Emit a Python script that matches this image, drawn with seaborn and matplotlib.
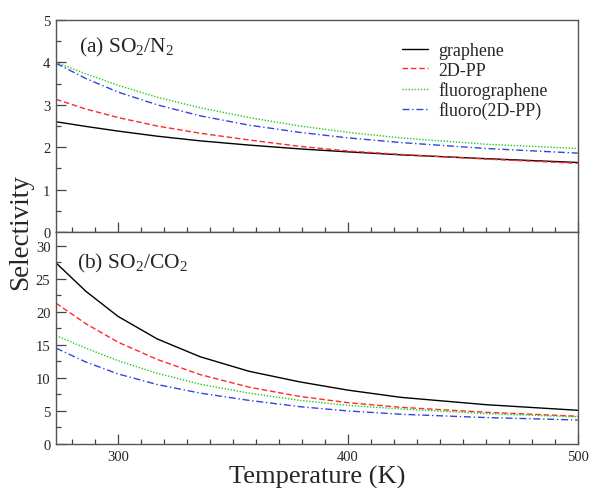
import numpy as np
import pandas as pd
import matplotlib
matplotlib.use("Agg")
import matplotlib.pyplot as plt
from matplotlib.ticker import MultipleLocator
import seaborn as sns

# Temperature grid (K)
temps = [273, 286, 300, 317, 335.7, 357, 379, 400, 423, 460, 500]

# (a) SO2/N2 selectivity
so2n2_graphene = [2.60, 2.49, 2.38, 2.26, 2.15, 2.05, 1.96, 1.89, 1.82, 1.73, 1.64]
so2n2_2dpp = [3.13, 2.90, 2.70, 2.50, 2.33, 2.17, 2.02, 1.91, 1.83, 1.72, 1.62]
so2n2_fluorographene = [4.00, 3.73, 3.46, 3.18, 2.93, 2.70, 2.50, 2.35, 2.22, 2.07, 1.97]
so2n2_fluoro2dpp = [3.98, 3.62, 3.30, 3.00, 2.74, 2.52, 2.35, 2.22, 2.11, 1.97, 1.86]

# (b) SO2/CO2 selectivity
so2co2_graphene = [27.4, 23.1, 19.3, 15.9, 13.2, 11.0, 9.4, 8.15, 7.06, 5.95, 5.1]
so2co2_2dpp = [21.3, 18.2, 15.4, 12.8, 10.5, 8.6, 7.2, 6.25, 5.55, 4.8, 4.2]
so2co2_fluorographene = [16.4, 14.5, 12.6, 10.7, 9.05, 7.7, 6.6, 5.85, 5.3, 4.6, 4.1]
so2co2_fluoro2dpp = [14.5, 12.4, 10.6, 9.0, 7.7, 6.6, 5.65, 5.0, 4.5, 4.0, 3.63]

materials = ["graphene", "2D-PP", "fluorographene", "fluoro(2D-PP)"]
colors = ["black", "#ff2a2a", "#22cc22", "#3344dd"]
dashes = [None, (4, 2), (1, 1.2), (5, 2, 1, 2)]

sns.set_theme(style="ticks")
plt.rcParams["font.family"] = ["Liberation Serif", "DejaVu Serif"]
plt.rcParams["mathtext.fontset"] = "custom"
plt.rcParams["mathtext.rm"] = "Liberation Serif"

fig = plt.figure(figsize=(5.9, 4.89), dpi=100)
left, right = 56 / 590, 577.7 / 590
ax_top = fig.add_axes([left, 1 - 233 / 489, right - left, (233 - 21) / 489])
ax_bot = fig.add_axes([left, 1 - 445 / 489, right - left, (445 - 233) / 489])

top_series = [so2n2_graphene, so2n2_2dpp, so2n2_fluorographene, so2n2_fluoro2dpp]
bot_series = [so2co2_graphene, so2co2_2dpp, so2co2_fluorographene, so2co2_fluoro2dpp]


def draw(ax, series, with_labels):
    for name, col, dsh, ys in zip(materials, colors, dashes, series):
        df = pd.DataFrame({"T": temps, "S": ys})
        kw = dict(color=col, lw=1.0)
        if with_labels:
            kw["label"] = name
        if dsh is not None:
            kw["dashes"] = dsh
        sns.lineplot(data=df, x="T", y="S", ax=ax, sort=False, estimator=None, **kw)


draw(ax_top, top_series, True)
draw(ax_bot, bot_series, False)

for ax in (ax_top, ax_bot):
    ax.set_xlim(273, 500)
    ax.xaxis.set_major_locator(MultipleLocator(100))
    ax.xaxis.set_minor_locator(MultipleLocator(10))
    ax.tick_params(which="both", direction="in", top=False, right=False,
                   labelsize=10.5, color="#444444", pad=4)
    ax.tick_params(which="major", length=7.2, width=0.9)
    ax.tick_params(which="minor", length=3.6, width=0.9)
    for sp in ax.spines.values():
        sp.set_color("#555555")
        sp.set_linewidth(1.0)
    ax.set_xlabel("")
    ax.set_ylabel("")

ax_top.set_ylim(0, 5)
ax_top.yaxis.set_major_locator(MultipleLocator(1))
ax_top.yaxis.set_minor_locator(MultipleLocator(0.5))
ax_top.tick_params(labelbottom=False)

ax_bot.set_ylim(0, 32.07)
ax_bot.yaxis.set_major_locator(MultipleLocator(5))
ax_bot.yaxis.set_minor_locator(MultipleLocator(2.5))

ax_top.text(0.044, 0.877, r"(a) SO$\mathregular{_2}$/N$\mathregular{_2}$", transform=ax_top.transAxes,
            fontsize=15.5, va="center", ha="left")
ax_bot.text(0.040, 0.854, r"(b) SO$\mathregular{_2}$/CO$\mathregular{_2}$", transform=ax_bot.transAxes,
            fontsize=15.5, va="center", ha="left")

leg = ax_top.legend(loc="upper left", bbox_to_anchor=(0.663, 0.896), frameon=False,
                    borderpad=0, borderaxespad=0,
                    fontsize=12.9, handlelength=1.45, handletextpad=0.6, labelspacing=0.14)

fig.text(21 / 590, 1 - 232.5 / 489, "Selectivity", rotation=90, fontsize=19.5,
         ha="center", va="center")
fig.text(317 / 590, 1 - 484 / 489, "Temperature (K)", fontsize=19, ha="center", va="baseline")

fig.savefig("out.png", dpi=100)
